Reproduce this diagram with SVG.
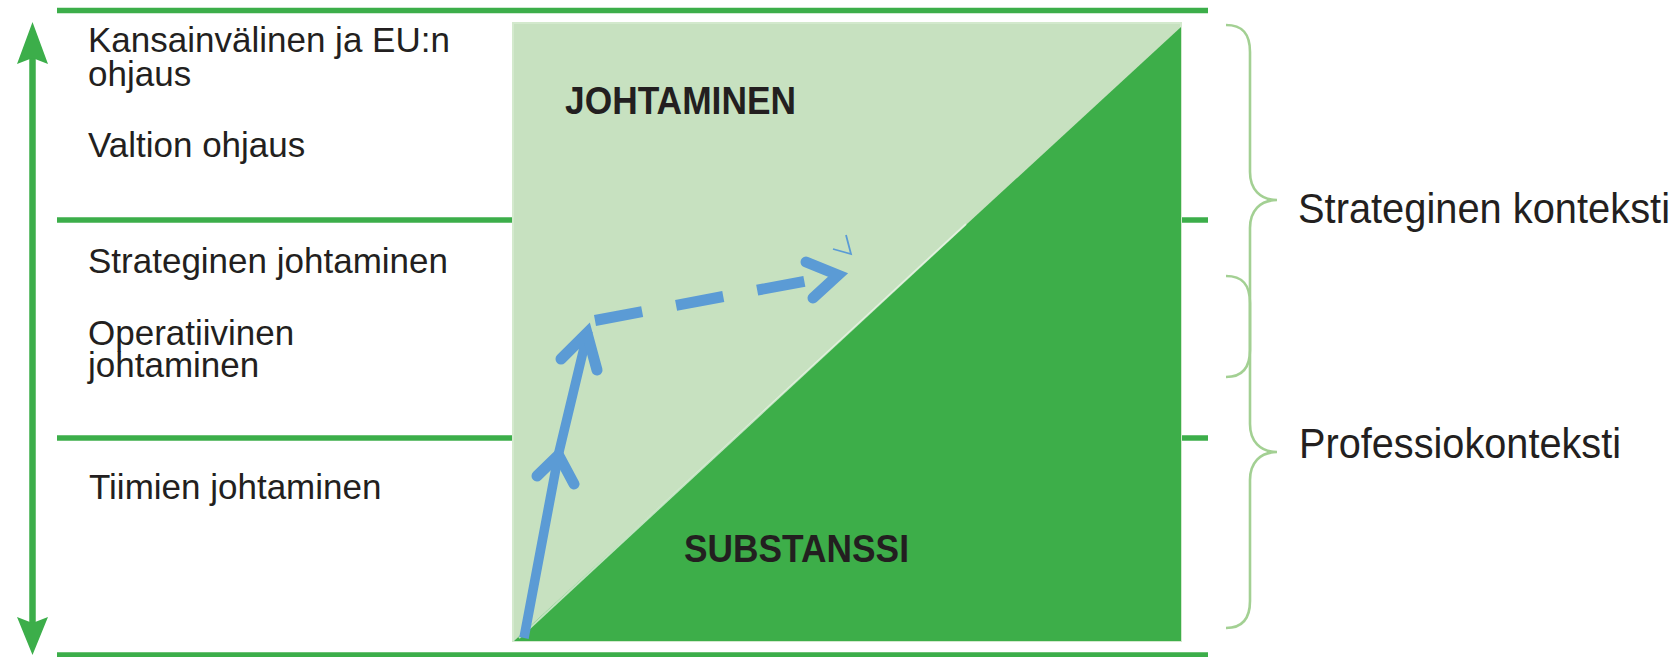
<svg xmlns="http://www.w3.org/2000/svg" width="1680" height="657" viewBox="0 0 1680 657">
  <defs>
    <style>
      .rule { stroke: #3cae4a; stroke-width: 5.5; fill: none; }
      .label { font-family: "Liberation Sans", Arial, sans-serif; font-size: 35px; fill: #231f20; }
      .field { font-family: "Liberation Sans", Arial, sans-serif; font-weight: bold; fill: #231f20; }
      .context { font-family: "Liberation Sans", Arial, sans-serif; font-size: 42px; fill: #231f20; }
      .brace { stroke: #a3d093; stroke-width: 2.6; fill: none; }
      .route { stroke: #5b9bd5; fill: none; }
      .head { stroke: #5b9bd5; fill: none; stroke-width: 11; stroke-linecap: round; stroke-linejoin: miter; stroke-miterlimit: 6; }
    </style>
  </defs>

  <rect width="1680" height="657" fill="#ffffff"/>

  <!-- horizontal level rules -->
  <g id="levels">
    <line class="rule" x1="57" y1="10.5" x2="1208" y2="10.5"/>
    <line class="rule" x1="57" y1="220" x2="1208" y2="220"/>
    <line class="rule" x1="57" y1="438" x2="1208" y2="438"/>
    <line class="rule" x1="57" y1="655" x2="1208" y2="655"/>
  </g>

  <!-- vertical double-headed scale arrow -->
  <g id="scale-arrow" fill="#3cae4a">
    <line x1="32.5" y1="56" x2="32.5" y2="624" stroke="#3cae4a" stroke-width="6.5"/>
    <path d="M32.5,22 L48,64 L32.5,58 L17,64 Z"/>
    <path d="M32.5,655 L48,617 L32.5,623 L17,617 Z"/>
  </g>

  <!-- level labels -->
  <g id="level-international">
    <text class="label" x="88" y="52">Kansainvälinen ja EU:n</text>
    <text class="label" x="88" y="86">ohjaus</text>
  </g>
  <g id="level-state">
    <text class="label" x="88" y="157">Valtion ohjaus</text>
  </g>
  <g id="level-strategic">
    <text class="label" x="88" y="273">Strateginen johtaminen</text>
  </g>
  <g id="level-operative">
    <text class="label" x="88" y="345">Operatiivinen</text>
    <text class="label" x="88" y="377">johtaminen</text>
  </g>
  <g id="level-teams">
    <text class="label" x="89" y="499">Tiimien johtaminen</text>
  </g>

  <!-- management / substance square -->
  <g id="matrix">
    <rect x="513" y="23" width="668" height="618" fill="#c7e1c0" stroke="#d3e9cd" stroke-width="2"/>
    <polygon points="514,641 1181,641 1181,27" fill="#3dae49"/>
    <line x1="519" y1="638" x2="966" y2="224" stroke="#eef6ea" stroke-width="2" opacity="0.75"/>
  </g>
  <g id="field-johtaminen">
    <text class="field" x="565" y="114" font-size="38" textLength="231" lengthAdjust="spacingAndGlyphs">JOHTAMINEN</text>
  </g>
  <g id="field-substanssi">
    <text class="field" x="684" y="562" font-size="39" textLength="225" lengthAdjust="spacingAndGlyphs">SUBSTANSSI</text>
  </g>

  <!-- development paths -->
  <g id="connectors">
    <polyline class="route" points="524,638 559,452 588,331" stroke-width="9.5"/>
    <polyline class="head" points="537,476 558.5,455 574,484"/>
    <polyline class="head" points="561,359 587,333 597,370"/>
    <path class="route" d="M595,320.5 L806,281" stroke-width="11" stroke-dasharray="48 34.5"/>
    <polyline class="head" points="806,262 838,275 813,298"/>
    <path d="M846,235 L851,254 L833,249" stroke="#5b9bd5" stroke-width="1.8" fill="none"/>
  </g>

  <!-- context braces -->
  <g id="context-strategic">
    <path class="brace" d="M1226,25 C1242,25 1250,33 1250,52 L1250,172 C1250,189 1260,200 1277,200 C1260,200 1250,211 1250,228 L1250,350 C1250,368 1242,377 1226,377"/>
    <text class="context" x="1298" y="223" textLength="372" lengthAdjust="spacingAndGlyphs">Strateginen konteksti</text>
  </g>
  <g id="context-profession">
    <path class="brace" d="M1226,276 C1242,276 1250,284 1250,303 L1250,424 C1250,441 1260,452 1277,452 C1260,452 1250,463 1250,480 L1250,601 C1250,619 1242,628 1226,628"/>
    <text class="context" x="1299" y="458" textLength="322" lengthAdjust="spacingAndGlyphs">Professiokonteksti</text>
  </g>
</svg>
